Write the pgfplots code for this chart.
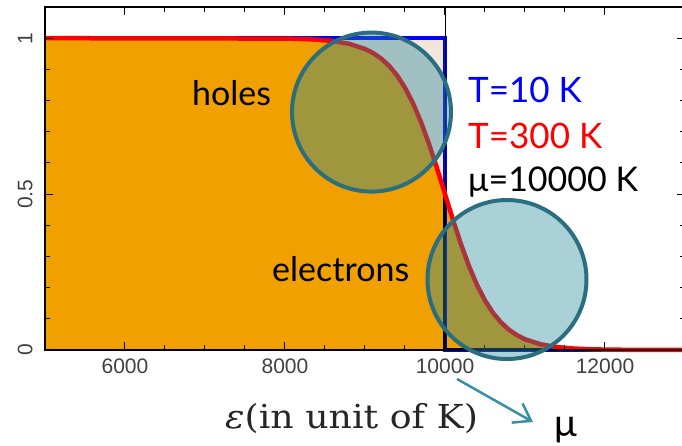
\documentclass[border=0pt]{standalone}
\usepackage{fontspec}
\usepackage{pgfplots}
\pgfplotsset{compat=1.18}
\usepackage{pgfplotstable}
\usetikzlibrary{arrows.meta}
\newfontfamily\lato{Lato}
\newfontfamily\tickfont{Liberation Sans}
\newfontfamily\labfont{DejaVu Serif}
\definecolor{forange}{RGB}{240,160,0}
\definecolor{fbeige}{RGB}{240,230,218}
\definecolor{cfill}{RGB}{42,137,157}
\definecolor{cedge}{RGB}{43,110,128}
\definecolor{arrowc}{RGB}{55,145,165}
\definecolor{tblue}{RGB}{0,0,255}
\definecolor{tred}{RGB}{255,0,0}

\pgfplotstableread{
e f
5000 1
8000 0.9987
8200 0.9975
8400 0.9952
8600 0.9907
8800 0.9820
9000 0.9656
9100 0.9526
9200 0.9350
9300 0.9116
9400 0.8808
9500 0.8411
9600 0.7914
9700 0.7311
9800 0.6608
9900 0.5826
10000 0.5
10100 0.4174
10200 0.3392
10300 0.2689
10400 0.2086
10500 0.1589
10600 0.1192
10700 0.0884
10800 0.0650
10900 0.0474
11000 0.0344
11200 0.0180
11400 0.0093
11600 0.0048
11800 0.0025
12000 0.0013
12400 0.0003
13000 0
}\redT

\begin{document}
\begin{tikzpicture}
\useasboundingbox (-45pt,-96pt) rectangle (637pt,350pt);
\begin{axis}[
  at={(0pt,0pt)}, anchor=south west,
  scale only axis, width=640pt, height=343pt,
  xmin=5000, xmax=13000, ymin=0, ymax=1.1,
  xtick={6000,8000,10000,12000}, minor x tick num=3,
  ytick={0,0.5,1}, minor y tick num=4,
  scaled x ticks=false,
  tick align=inside, major tick length=8pt, minor tick length=5pt,
  axis line style={line width=1.2pt},
  tick style={black, line width=1pt},
  axis on top,
  clip=false,
  /pgf/number format/1000 sep={},
  /pgf/number format/assume math mode=true,
  ticklabel style={font=\tickfont\fontsize{21}{21}\selectfont, text=black!75},
  xticklabel shift=5pt,
  yticklabel style={rotate=90, anchor=south},
  yticklabel shift=9pt,
]
\addplot[fill=fbeige, draw=none] coordinates {(5000,1) (10000,1) (10000,0)} \closedcycle;
\addplot[fill=forange, draw=none] table[x=e,y=f] {\redT} \closedcycle;
\addplot[tblue, line width=3.5pt] coordinates {(5000,1) (10000,1) (10000,0) (13000,0)};
\addplot[black, line width=0.8pt] coordinates {(10000,0) (10000,1.1)};
\addplot[black, line width=3pt] coordinates {(10000,0.49) (10000,0) (11280,0)};
\addplot[tred, line width=4.5pt] table[x=e,y=f] {\redT};
\coordinate (c1) at (axis cs:9081,0.763);
\coordinate (c2) at (axis cs:10775,0.226);
\end{axis}
\draw[cedge, line width=4pt, fill=cfill, fill opacity=0.4] (c1) circle[radius=79.5pt];
\draw[cedge, line width=4pt, fill=cfill, fill opacity=0.4] (c2) circle[radius=79.5pt];
\node[anchor=base west, inner sep=0pt, font=\lato\fontsize{34}{40}\selectfont] at (147pt,244pt) {holes};
\node[anchor=base west, inner sep=0pt, font=\lato\fontsize{34}{40}\selectfont] at (227pt,68pt) {electrons};
\node[anchor=base west, inner sep=0pt, font=\lato\fontsize{35}{40}\selectfont, text=tblue] at (423pt,247pt) {T=10 K};
\node[anchor=base west, inner sep=0pt, font=\lato\fontsize{35}{40}\selectfont, text=tred] at (423pt,201pt) {T=300 K};
\node[anchor=base west, inner sep=0pt, font=\lato\fontsize{34}{40}\selectfont] at (423pt,158pt) {μ=10000 K};
\node[anchor=base west, inner sep=0pt, font=\labfont\fontsize{33}{40}\selectfont, text=black!85] at (180pt,-79pt) {\scalebox{1.1}[1]{{\itshape ε}(in unit of K)}};
\draw[arrowc, line width=2.5pt, -{Straight Barb[length=16pt,width=22pt]}] (412pt,-29pt) -- (488pt,-72pt);
\node[anchor=base west, inner sep=0pt, font=\lato\fontsize{38}{40}\selectfont] at (509pt,-87pt) {μ};
\end{tikzpicture}
\end{document}
